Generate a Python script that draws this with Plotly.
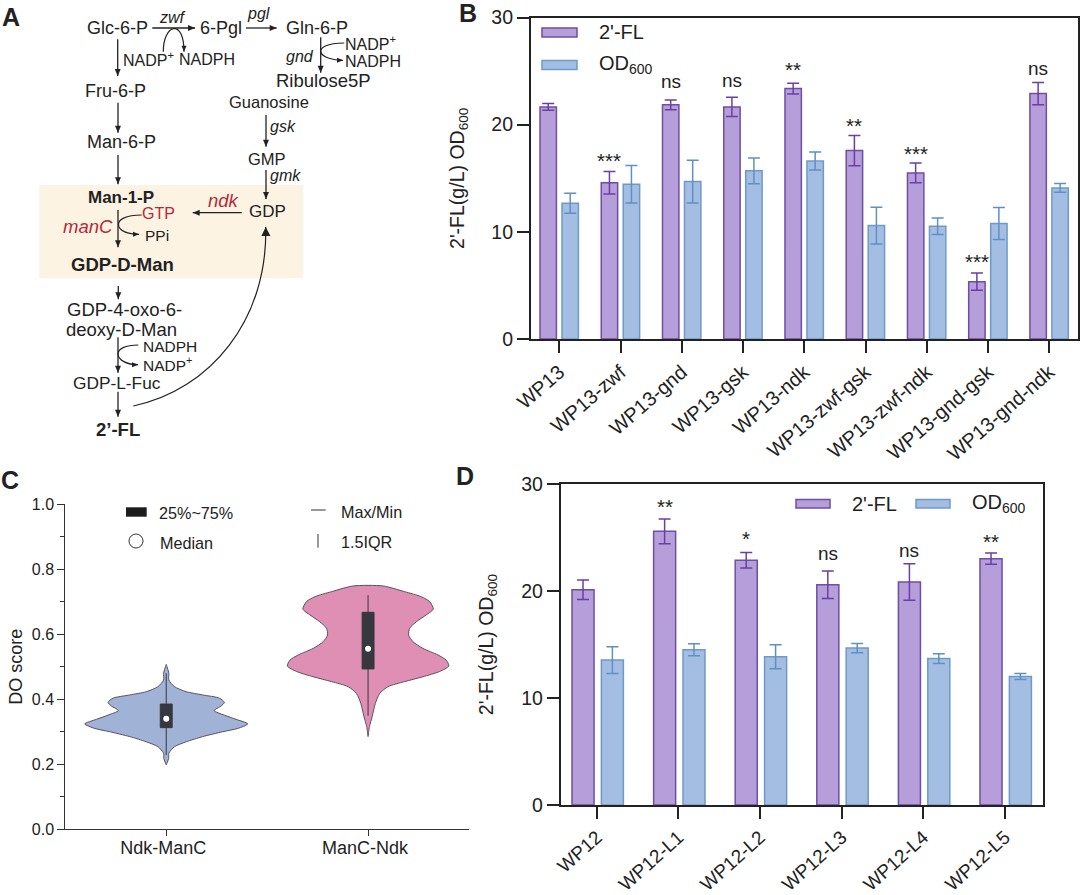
import plotly.graph_objects as go

W, H = 1080, 895
FONT = "Liberation Sans"
INK = "#222222"

# ---- panel B data
b_strains = ["WP13", "WP13-zwf", "WP13-gnd", "WP13-gsk", "WP13-ndk", "WP13-zwf-gsk",
             "WP13-zwf-ndk", "WP13-gnd-gsk", "WP13-gnd-ndk"]
b_fl = [21.66, 14.57, 21.85, 21.66, 23.37, 17.58, 15.5, 5.35, 22.9]
b_fl_err = [0.31, 1.05, 0.45, 0.9, 0.5, 1.42, 0.93, 0.81, 1.03]
b_od = [12.67, 14.44, 14.69, 15.69, 16.62, 10.58, 10.52, 10.77, 14.1]
b_od_err = [0.93, 1.74, 1.99, 1.21, 0.84, 1.71, 0.78, 1.49, 0.4]
b_sig = ["", "***", "ns", "ns", "**", "**", "***", "***", "ns"]
b_sig_y = [0, 16.84, 24.0, 24.15, 25.3, 20.1, 17.46, 7.41, 25.24]

# ---- panel D data
d_strains = ["WP12", "WP12-L1", "WP12-L2", "WP12-L3", "WP12-L4", "WP12-L5"]
d_fl = [20.12, 25.58, 22.87, 20.59, 20.84, 23.02]
d_fl_err = [0.91, 1.16, 0.73, 1.28, 1.71, 0.53]
d_od = [13.55, 14.52, 13.86, 14.67, 13.68, 12.02]
d_od_err = [1.25, 0.56, 1.12, 0.43, 0.46, 0.28]
d_sig = ["", "**", "*", "ns", "ns", "**"]
d_sig_y = [0, 28.1, 25.08, 23.46, 23.77, 24.86]

# ---- panel C data
c_groups = ["Ndk-ManC", "ManC-Ndk"]
v1_score = [.507, .48, .459, .4385, .423, .413, .403, .39, .379, .365, .351, .338, .324,
            .31, .30, .285, .269, .254, .234, .218, .198]
v1_density = [0, .013, .013, .041, .099, .181, .264, .288, .272, .237, .288, .346, .404,
              .354, .28, .181, .099, .041, .013, .012, 0]
v2_score = [.748, .7305, .715, .70, .677, .659, .638, .618, .597, .577, .556, .536, .52,
            .502, .485, .469, .454, .4385, .418, .387, .346, .316, .285]
v2_density = [.074, .181, .264, .305, .323, .288, .239, .206, .201, .222, .272, .346, .387,
              .40, .354, .272, .181, .099, .058, .036, .02, .007, 0]
c_q1 = [.3125, .493]
c_median = [.34, .555]
c_q3 = [.385, .667]
c_low = [.228, .349]
c_high = [.48, .72]

PURPLE, PURPLE_LINE, PURPLE_ERR = "#b59ed9", "#6d4fa3", "#6a3fa5"
BLUE, BLUE_LINE, BLUE_ERR = "#a3bde3", "#6f9ac8", "#5f90c4"


def px_x(x):
    return x / W


def px_y(y):
    return 1 - y / H


shapes, notes = [], []


def text(x, y, s, size=18, color=INK, bold=False, italic=False, xanchor="center"):
    notes.append(dict(x=px_x(x), y=px_y(y), xref="paper", yref="paper", text=s, showarrow=False,
                      xanchor=xanchor, yanchor="middle",
                      font=dict(family=FONT, size=size, color=color,
                                weight="bold" if bold else "normal",
                                style="italic" if italic else "normal")))


def head(x, y, dx, dy, length=7, half=3):
    n = (dx * dx + dy * dy) ** 0.5
    ux, uy = dx / n, dy / n
    bx, by = x - ux * length, y - uy * length
    a = (bx - uy * half, by + ux * half)
    b = (bx + uy * half, by - ux * half)
    path = (f"M{px_x(x)},{px_y(y)} L{px_x(a[0])},{px_y(a[1])} "
            f"L{px_x(b[0])},{px_y(b[1])} Z")
    shapes.append(dict(type="path", xref="paper", yref="paper", path=path,
                       fillcolor=INK, line=dict(width=0)))


def arrow(x0, y0, x1, y1):
    shapes.append(dict(type="line", xref="paper", yref="paper", x0=px_x(x0), y0=px_y(y0),
                       x1=px_x(x1), y1=px_y(y1), line=dict(color=INK, width=1.3)))
    head(x1, y1, x1 - x0, y1 - y0)


def curve(start, segments, big=False):
    d = f"M{px_x(start[0])},{px_y(start[1])}"
    for c1, c2, p in segments:
        d += (f" C{px_x(c1[0])},{px_y(c1[1])} {px_x(c2[0])},{px_y(c2[1])} "
              f"{px_x(p[0])},{px_y(p[1])}")
    shapes.append(dict(type="path", xref="paper", yref="paper", path=d,
                       line=dict(color=INK, width=1.2)))
    c2, p = segments[-1][1], segments[-1][2]
    head(p[0], p[1], p[0] - c2[0], p[1] - c2[1], 9 if big else 6, 4.5 if big else 2.5)


# ---- panel A: pathway diagram
shapes.append(dict(type="rect", xref="paper", yref="paper", x0=px_x(39.3), x1=px_x(303.3),
                   y0=px_y(185), y1=px_y(278.3), fillcolor="#fcf3e3", line=dict(width=0),
                   layer="below"))
RED = "#b02a3a"
text(117, 28.3, "Glc-6-P")
text(172, 18, "zwf", 16, italic=True)
text(220.7, 28.3, "6-Pgl")
text(258, 14, "pgl", 16, italic=True)
text(316.7, 28.3, "Gln-6-P")
text(148, 59.3, "NADP<sup>+</sup>", 16)
text(207, 59.3, "NADPH", 16)
text(370, 42.7, "NADP<sup>+</sup>", 16)
text(373, 61.3, "NADPH", 16)
text(300, 56.7, "gnd", 16, italic=True)
text(323, 81, "Ribulose5P", 18.5)
text(115, 90.7, "Fru-6-P")
text(269.3, 101.7, "Guanosine", 16.5)
text(283, 126.7, "gsk", 16, italic=True)
text(121, 141.7, "Man-6-P")
text(267, 159, "GMP", 16.5)
text(285, 175.7, "gmk", 16, italic=True)
text(121, 197.3, "Man-1-P", 17, bold=True)
text(158, 213.3, "GTP", 16, RED)
text(224, 200, "ndk", 18.5, RED, italic=True)
text(267, 211.7, "GDP", 17)
text(87.7, 226.7, "manC", 18.5, RED, italic=True)
text(157, 235, "PPi", 15.5)
text(122, 265, "GDP-D-Man", 18.5, bold=True)
text(124, 309.3, "GDP-4-oxo-6-", 18.5)
text(121.7, 329.3, "deoxy-D-Man", 18.5)
text(170, 346.5, "NADPH", 15.5)
text(167, 364, "NADP<sup>+</sup>", 15.5)
text(117, 382.7, "GDP-L-Fuc", 17.3)
text(118, 429, "2’-FL", 18.5, bold=True)

arrow(152.3, 28, 195, 28)
arrow(246, 28, 276.7, 28)
arrow(117.7, 39.3, 117.7, 76)
arrow(118, 102.7, 118, 132.7)
arrow(118, 155, 118, 184.3)
arrow(118, 210, 118, 247.3)
arrow(118.3, 286, 118.3, 299.3)
arrow(118, 337.3, 118, 372.7)
arrow(118, 391.7, 118, 416.7)
arrow(320.7, 37.3, 320.7, 72.7)
arrow(266, 115, 266, 146.7)
arrow(266, 170, 266, 199)
arrow(241.7, 212.7, 192.7, 212.7)
curve((163.3, 51.7), [((163.3, 24), (184, 18), (184, 51.7))])
curve((344.3, 43), [((326, 43), (320, 48), (320.7, 52)), ((322, 57), (332, 60.3), (343, 60.3))])
curve((141.7, 215), [((125, 215), (118, 220), (118.5, 225)), ((119, 231), (128, 234.3), (139, 234.3))])
curve((138.3, 345), [((125, 345), (118, 349), (118, 354)), ((118, 360), (127, 364.7), (138, 364.7))])
curve((133.3, 406), [((210, 390), (268, 320), (265.7, 227))], big=True)

# ---- panel letters
text(11, 17, "A", 25, bold=True)
text(468, 13, "B", 25, bold=True)
text(10, 480, "C", 25, bold=True)
text(465, 476, "D", 25, bold=True)


def swatch(x0, x1, y0, y1, fill, line):
    shapes.append(dict(type="rect", xref="paper", yref="paper", x0=px_x(x0), x1=px_x(x1),
                       y0=px_y(y0), y1=px_y(y1), fillcolor=fill, line=dict(color=line, width=1.5)))


# ---- legends of B and D
swatch(542, 577, 28, 37, PURPLE, PURPLE_LINE)
text(597, 32.5, "2'-FL", 20, xanchor="left")
swatch(542, 577, 60.5, 69.5, BLUE, BLUE_LINE)
text(597, 64, "OD<sub>600</sub>", 20, xanchor="left")
swatch(796, 830, 499.5, 508, PURPLE, PURPLE_LINE)
text(850, 504, "2'-FL", 20, xanchor="left")
swatch(916, 950, 499.5, 508, BLUE, BLUE_LINE)
text(970, 504, "OD<sub>600</sub>", 20, xanchor="left")

# ---- legend of C
shapes.append(dict(type="rect", xref="paper", yref="paper", x0=px_x(126), x1=px_x(146.7),
                   y0=px_y(507.3), y1=px_y(516.7), fillcolor="#1c1c1c", line=dict(width=0)))
shapes.append(dict(type="circle", xref="paper", yref="paper", x0=px_x(129), x1=px_x(143),
                   y0=px_y(534), y1=px_y(548), fillcolor="white", line=dict(color="#333333", width=1)))
shapes.append(dict(type="line", xref="paper", yref="paper", x0=px_x(311), x1=px_x(325.7),
                   y0=px_y(510), y1=px_y(510), line=dict(color="#333333", width=1)))
shapes.append(dict(type="line", xref="paper", yref="paper", x0=px_x(318), x1=px_x(318),
                   y0=px_y(534), y1=px_y(547.7), line=dict(color="#333333", width=1)))
text(157, 512.7, "25%~75%", 16.2, xanchor="left")
text(158.3, 542.7, "Median", 16.2, xanchor="left")
text(339, 511.7, "Max/Min", 16.2, xanchor="left")
text(339, 541.7, "1.5IQR", 16.2, xanchor="left")

fig = go.Figure()


def bars(xa, ya, names, fl, fl_err, od, od_err, off1, off2, width):
    xs = list(range(len(names)))
    for vals, errs, off, fill, line, ecol, nm in (
            (fl, fl_err, off1, PURPLE, PURPLE_LINE, PURPLE_ERR, "2'-FL"),
            (od, od_err, off2, BLUE, BLUE_LINE, BLUE_ERR, "OD600")):
        fig.add_trace(go.Bar(x=xs, y=vals, width=width, offset=off, name=nm, xaxis=xa, yaxis=ya,
                             marker=dict(color=fill, line=dict(color=line, width=1.5)),
                             error_y=dict(type="data", array=errs, color=ecol, thickness=1.5, width=6),
                             showlegend=False))


bars("x", "y", b_strains, b_fl, b_fl_err, b_od, b_od_err, -0.315, 0.044, 0.268)
bars("x3", "y3", d_strains, d_fl, d_fl_err, d_od, d_od_err, -0.305, 0.055, 0.27)


def sig(labels, ys, off, xa, ya):
    for i, (s, y) in enumerate(zip(labels, ys)):
        if s:
            star = s != "ns"
            notes.append(dict(x=i + off, y=y, xref=xa, yref=ya, text=s, showarrow=False,
                              yanchor="middle", yshift=-2 if star else 0,
                              font=dict(family=FONT, size=20.5 if star else 19, color=INK)))


sig(b_sig, b_sig_y, -0.181, "x", "y")
sig(d_sig, d_sig_y, -0.17, "x3", "y3")

# ---- violins: bodies on the main axes, boxes on an overlaying pair so they draw on top
for i, (score, dens, fill) in enumerate(((v1_score, v1_density, "#a0b2d6"),
                                         (v2_score, v2_density, "#de8fb3"))):
    xs = [i + d for d in dens] + [i - d for d in reversed(dens)] + [i + dens[0]]
    ys = list(score) + list(reversed(score)) + [score[0]]
    fig.add_trace(go.Scatter(x=xs, y=ys, mode="lines", fill="toself", fillcolor=fill,
                             line=dict(color="#5a5060", width=1, shape="spline", smoothing=0.7),
                             xaxis="x2", yaxis="y2", showlegend=False, name=c_groups[i]))
    fig.add_trace(go.Box(x=[i], q1=[c_q1[i]], median=[c_median[i]], q3=[c_q3[i]],
                         lowerfence=[c_low[i]], upperfence=[c_high[i]], width=0.059,
                         orientation="v", whiskerwidth=0, fillcolor="#37373f",
                         line=dict(color="#37373f", width=1),
                         xaxis="x4", yaxis="y4", showlegend=False, name=c_groups[i]))
fig.add_trace(go.Scatter(x=[0, 1], y=c_median, mode="markers",
                         marker=dict(color="white", size=6), xaxis="x4", yaxis="y4", showlegend=False))


def bar_axes(x0, x1, y0, y1, xrange_, names, xsize, angle):
    tick_y = dict(family=FONT, size=19.5, color=INK)
    tick_x = dict(family=FONT, size=xsize, color=INK)
    xa = dict(domain=[px_x(x0), px_x(x1)], range=xrange_, tickvals=list(range(len(names))),
              ticktext=names, tickangle=angle, ticks="outside", ticklen=12, tickwidth=1.5,
              tickcolor=INK, showline=True, linecolor=INK, linewidth=1.5, mirror=True,
              showgrid=False, zeroline=False, tickfont=tick_x, automargin=False)
    ya = dict(domain=[px_y(y1), px_y(y0)], range=[0, 30], tickvals=[0, 10, 20, 30], ticks="outside",
              ticklen=12, tickwidth=1.5, tickcolor=INK, showline=True, linecolor=INK, linewidth=1.5,
              mirror=True, showgrid=False, zeroline=False, tickfont=tick_y, automargin=False)
    return xa, ya


xa1, ya1 = bar_axes(530.7, 1078, 17.5, 339, [-0.467, 8.47], b_strains, 20, -41)
xa3, ya3 = bar_axes(560.5, 1043, 484, 805, [-0.446, 5.467], d_strains, 19, -42)
ya1["title"] = dict(text="2'-FL(g/L) OD<sub>600</sub>", font=dict(family=FONT, size=19.5, color=INK), standoff=22)
ya3["title"] = dict(text="2'-FL(g/L) OD<sub>600</sub>", font=dict(family=FONT, size=19.5, color=INK), standoff=22)
ya1["anchor"] = "x"
xa1["anchor"] = "y"
ya3["anchor"] = "x3"
xa3["anchor"] = "y3"

c_x_domain = [px_x(65.3), px_x(469)]
c_y_domain = [px_y(829.3), px_y(504)]

fig.update_layout(
    template="none",
    width=W, height=H, margin=dict(l=0, r=0, t=0, b=0, pad=0), paper_bgcolor="white", plot_bgcolor="white",
    barmode="overlay", showlegend=False, font=dict(family=FONT, color=INK),
    xaxis=xa1, yaxis=ya1, xaxis3=xa3, yaxis3=ya3,
    xaxis2=dict(domain=c_x_domain, range=[-0.5, 1.5], anchor="y2", tickvals=[0, 1],
                ticktext=c_groups, ticks="outside", ticklen=6, tickwidth=1, tickcolor="#333333",
                showline=True, linecolor="#333333", linewidth=1, showgrid=False, zeroline=False,
                automargin=False, ticklabelstandoff=-4, ticklabelshift=-3,
                tickfont=dict(family=FONT, size=18, color=INK)),
    yaxis2=dict(domain=c_y_domain, range=[0, 1], anchor="x2", dtick=0.2, tickformat=".1f",
                ticks="outside", ticklen=7, tickwidth=1, tickcolor="#333333", showline=True,
                linecolor="#333333", linewidth=1, showgrid=False, zeroline=False, automargin=False,
                minor=dict(dtick=0.1, ticks="outside", ticklen=4, tickcolor="#333333", tickwidth=1),
                tickfont=dict(family=FONT, size=16, color=INK),
                title=dict(text="DO score", font=dict(family=FONT, size=18, color=INK), standoff=4)),
    xaxis4=dict(overlaying="x2", range=[-0.5, 1.5], anchor="y4", visible=False, domain=c_x_domain),
    yaxis4=dict(overlaying="y2", range=[0, 1], anchor="x4", visible=False, domain=c_y_domain),
    shapes=shapes, annotations=notes,
)

fig.write_html("out.html", config={"displayModeBar": False}, post_script="document.body.style.margin='0';")
